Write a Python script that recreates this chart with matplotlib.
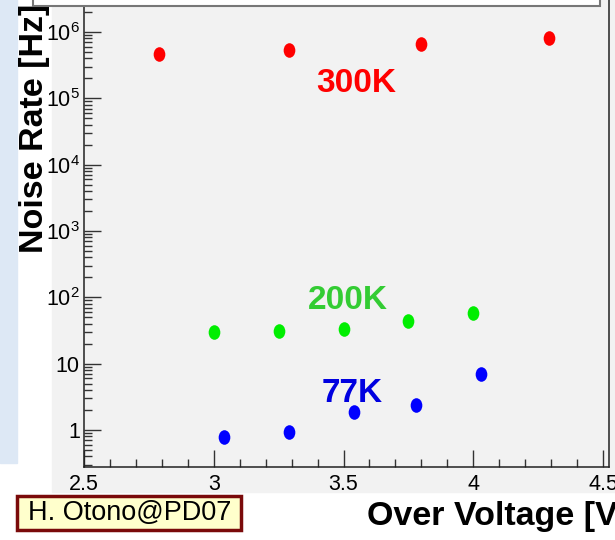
import numpy as np
import matplotlib
matplotlib.use('Agg')
import matplotlib.pyplot as plt
from matplotlib.patches import Rectangle
from matplotlib.path import Path
from matplotlib.transforms import Affine2D
from matplotlib.ticker import FixedLocator, FixedFormatter, MultipleLocator

plt.rcParams['font.family'] = ['Liberation Sans', 'DejaVu Sans']
plt.rcParams['mathtext.default'] = 'regular'

# noise rate vs over voltage, three temperatures
v_300 = [2.79, 3.29, 3.80, 4.29]
r_300 = [4.7e5, 5.4e5, 6.6e5, 8.1e5]
v_200 = [3.00, 3.25, 3.50, 3.75, 4.00]
r_200 = [30, 31, 33, 44, 58]
v_77 = [3.04, 3.29, 3.54, 3.78, 4.03]
r_77 = [0.79, 0.93, 1.87, 2.38, 7.0]

y_major = [1, 10, 1e2, 1e3, 1e4, 1e5, 1e6]
y_labels = ['1', '10', '$10^{2}$', '$10^{3}$', '$10^{4}$', '$10^{5}$', '$10^{6}$']
x_major = [2.5, 3.0, 3.5, 4.0, 4.5]
x_labels = ['2.5', '3', '3.5', '4', '4.5']

W, H = 615, 540
fig = plt.figure(figsize=(W / 100, H / 100), dpi=100)
fig.patch.set_facecolor('white')

def fx(px):
    return px / W

def fy(py):
    return (H - py) / H

# slide background pieces
fig.patches.append(Rectangle((0, fy(463)), fx(17), fy(0) - fy(463) + 0.05,
                             transform=fig.transFigure, color='#dde8f5', zorder=-2))
fig.patches.append(Rectangle((fx(52), fy(492)), 1, 1, transform=fig.transFigure,
                             color='#f2f2f2', zorder=-2))

# frame: bottom at 467 px, top pushed above the canvas
left, right, bot, top = 84, 609, 467, -20
ax = fig.add_axes([fx(left), fy(bot), fx(right - left), fy(top) - fy(bot)])
ax.set_facecolor('#f2f2f2')
ax.set_yscale('log')
ax.set_xlim(2.5, 4.523)
ax.set_ylim(10 ** -0.558, 10 ** 6.784)

# tall ellipse marker
dot = Path.unit_circle().transformed(Affine2D().scale(0.8, 1.0))
kw = dict(ls='none', marker=dot, ms=10.5, mew=0, clip_on=False)
ax.plot(v_300, r_300, color='#ff0000', **kw)
ax.plot(v_200, r_200, color='#00ee00', **kw)
ax.plot(v_77, r_77, color='#0000ff', **kw)

tk = dict(ha='center', va='baseline', fontsize=24, fontweight='bold')
ax.text(3.548, 10 ** 5.096, '300K', color='#ff0000', **tk)
ax.text(3.517, 10 ** 1.824, '200K', color='#33cc33', **tk)
ax.text(3.535, 10 ** 0.422, '77K', color='#0000e0', **tk)

ax.xaxis.set_major_locator(FixedLocator(x_major))
ax.xaxis.set_major_formatter(FixedFormatter(x_labels))
ax.xaxis.set_minor_locator(MultipleLocator(0.1))
ax.yaxis.set_major_locator(FixedLocator(y_major))
ax.yaxis.set_major_formatter(FixedFormatter(y_labels))
minors = [m * 10.0 ** d for d in range(-1, 7) for m in range(2, 10)]
ax.yaxis.set_minor_locator(FixedLocator(minors))
ax.yaxis.set_minor_formatter(FixedFormatter([''] * len(minors)))

ax.tick_params(which='both', direction='in', color='#333333', width=1.0,
               top=False, right=False)
ax.tick_params(which='major', length=12, labelsize=15.5)
ax.tick_params(which='minor', length=5.5)
ax.tick_params(axis='x', which='major', pad=5)
ax.tick_params(axis='y', which='major', pad=3)
for s in ('left', 'bottom', 'right'):
    ax.spines[s].set_linewidth(1.1)
    ax.spines[s].set_color('#222222')

# axis titles
fig.text(fx(367), fy(525), 'Over Voltage [V]', fontsize=24.5, fontweight='bold',
         ha='left', va='baseline')
fig.text(fx(35), fy(253), 'Noise Rate [Hz]', fontsize=24.5, fontweight='bold',
         rotation=90, ha='center', va='bottom')

# title box poking in from the top
fig.patches.append(Rectangle((fx(33), fy(6)), fx(600) - fx(33), 0.1,
                             transform=fig.transFigure, facecolor='white',
                             edgecolor='#777777', lw=1.5, zorder=5))

# credit box
fig.patches.append(Rectangle((fx(17), fy(530)), fx(241) - fx(17), fy(496) - fy(530),
                             transform=fig.transFigure, facecolor='#ffffcc',
                             edgecolor='#7a0a0a', lw=2.5, zorder=5))
fig.text(fx(130), fy(513), 'H. Otono@PD07', fontsize=19.5, ha='center',
         va='center', zorder=6)

fig.savefig('out.png', dpi=100)
